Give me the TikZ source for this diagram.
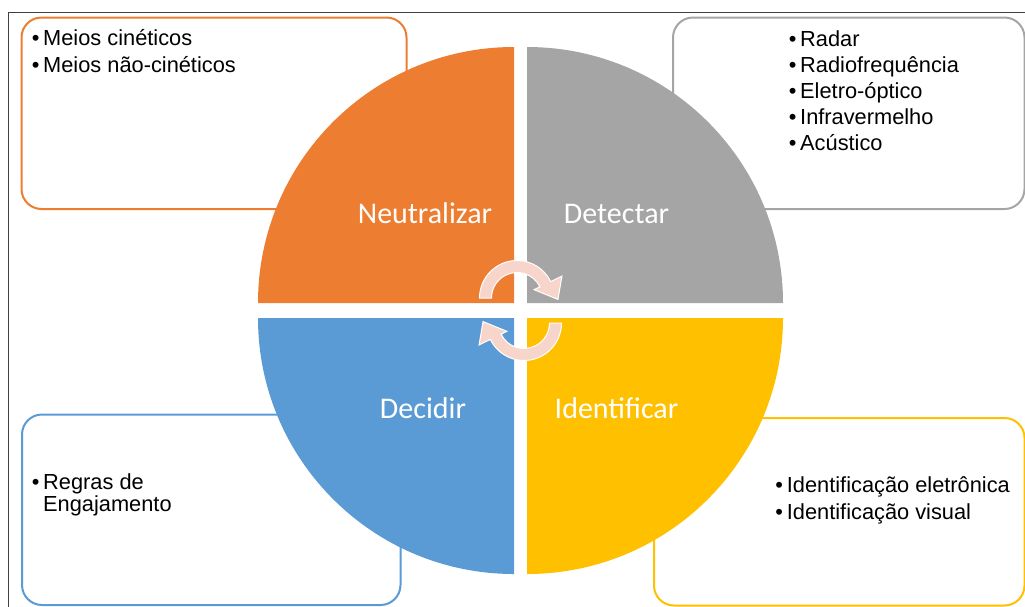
\documentclass[tikz,border=0pt]{standalone}
\usepackage{fontspec}
\setmainfont{Liberation Sans}
\newfontfamily\calibfont{Carlito}
\definecolor{qorange}{HTML}{ED7D31}
\definecolor{qgray}{HTML}{A5A5A5}
\definecolor{qblue}{HTML}{5B9BD5}
\definecolor{qgold}{HTML}{FFC000}
\definecolor{arrowpink}{HTML}{F8D5CA}
\definecolor{framegray}{HTML}{404040}
\newcommand\bulitem{\llap{\textbullet\hspace{3.8pt}}}
\begin{document}
\begin{tikzpicture}[x=1pt,y=-1pt,
  infobox/.style={line width=2pt, rounded corners=20pt, fill=white, anchor=north west, inner sep=0pt},
  qlabel/.style={font=\calibfont\fontsize{30}{36}\selectfont, text=white, anchor=base, inner sep=0pt},
  item/.style={font=\fontsize{21.8}{26}\selectfont, anchor=base west, inner sep=0pt},
  cyclearrow/.style={fill=arrowpink, draw=white, line width=1pt, line join=miter}
]
\useasboundingbox (0,0) rectangle (1025,606);
\clip (0,0) rectangle (1025,606);
% outer frame
\draw[framegray, line width=1pt] (8.5,12.5) rectangle (1040,620);

% information boxes
\node[infobox, draw=qorange, minimum width=385pt, minimum height=191.5pt] (boxN) at (20.5,16.5) {};
\node[infobox, draw=qgray, minimum width=351.5pt, minimum height=191.5pt] (boxD) at (672,16.5) {};
\node[infobox, draw=qblue, minimum width=378.5pt, minimum height=190.5pt] (boxC) at (21,413.5) {};
\node[infobox, draw=qgold, minimum width=370.5pt, minimum height=187.5pt] (boxI) at (653,417) {};

% quadrants
\fill[qorange] (514,303) -- (258,303) arc[start angle=180, end angle=270, radius=256] -- cycle;
\fill[qgray] (527,303) -- (527,47) arc[start angle=270, end angle=360, radius=256] -- cycle;
\fill[qblue] (514,318) -- (514,574) arc[start angle=90, end angle=180, radius=256] -- cycle;
\fill[qgold] (527,318) -- (783,318) arc[start angle=0, end angle=90, radius=256] -- cycle;

% quadrant labels
\node[qlabel] (lN) at (425,223) {Neutralizar};
\node[qlabel] (lD) at (616.5,223) {Detectar};
\node[qlabel] (lC) at (423,418) {Decidir};
\node[qlabel] (lI) at (616.5,418) {Identificar};

% cycle arrows
\begin{scope}[shift={(517,298)}]
\path[cyclearrow] (-180:37.5) arc[start angle=-180, end angle=-26, radius=37.5]
  -- (-26:50) -- (2:41) -- (-26:19) -- (-26:25.5)
  arc[start angle=-26, end angle=-180, radius=25.5] -- cycle;
\end{scope}
\begin{scope}[shift={(524,323)}, rotate=180]
\path[cyclearrow] (-180:37.5) arc[start angle=-180, end angle=-26, radius=37.5]
  -- (-26:50) -- (2:41) -- (-26:19) -- (-26:25.5)
  arc[start angle=-26, end angle=-180, radius=25.5] -- cycle;
\end{scope}

% box texts
\node[item] (n1) at (43,45.7) {\bulitem Meios cinéticos};
\node[item] (n2) at (43,72.3) {\bulitem Meios não-cinéticos};

\node[item] (d1) at (800,46) {\bulitem Radar};
\node[item] (d2) at (800,72.2) {\bulitem Radiofrequência};
\node[item] (d3) at (800,98.4) {\bulitem Eletro-óptico};
\node[item] (d4) at (800,124.6) {\bulitem Infravermelho};
\node[item] (d5) at (800,150.8) {\bulitem Acústico};

\node[item] (c1) at (43,489.3) {\bulitem Regras de};
\node[item] (c2) at (43,511.5) {Engajamento};

\node[item] (i1) at (786.7,492.7) {\bulitem Identificação eletrônica};
\node[item] (i2) at (786.7,519.3) {\bulitem Identificação visual};
\end{tikzpicture}
\end{document}
